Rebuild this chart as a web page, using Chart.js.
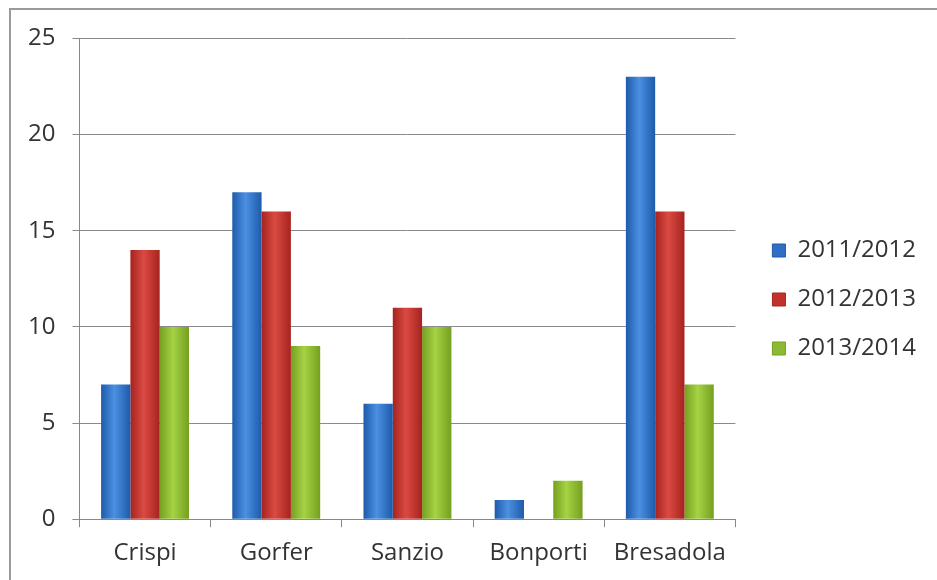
<!DOCTYPE html>
<html>
<head>
<meta charset="utf-8">
<script src="https://cdn.jsdelivr.net/npm/chart.js@4/dist/chart.umd.min.js"></script>
<style>
  html, body { margin: 0; padding: 0; background: #fff; }
  #frame {
    position: absolute; left: 9px; top: 8px; width: 928px; height: 572px;
    border-top: 2px solid #9a9a9a; border-left: 2px solid #9a9a9a;
    background: #fff;
  }
  #chart { display: block; }
</style>
</head>
<body>
<div id="frame"><canvas id="chart" width="926" height="570"></canvas></div>
<script>
const schools = ['Crispi', 'Gorfer', 'Sanzio', 'Bonporti', 'Bresadola'];
const years = ['2011/2012', '2012/2013', '2013/2014'];
const y2011 = [7, 17, 6, 1, 23];
const y2012 = [14, 16, 11, 0, 16];
const y2013 = [10, 9, 10, 2, 7];

// edge / centre / flat colours of the shaded bars
const shades = [
  ['#1e5aaa', '#4b90e2', '#2f6fc4'],
  ['#a6231f', '#da4a42', '#c2322d'],
  ['#74a01f', '#a6d245', '#8cba34']
];

const barShading = {
  id: 'barShading',
  beforeDatasetsDraw(chart) {
    const ctx = chart.ctx;
    chart.data.datasets.forEach((ds, i) => {
      const s = shades[i];
      chart.getDatasetMeta(i).data.forEach(bar => {
        const x0 = bar.x - bar.width / 2, x1 = bar.x + bar.width / 2;
        const g = ctx.createLinearGradient(x0, 0, x1, 0);
        g.addColorStop(0, s[0]);
        g.addColorStop(0.45, s[1]);
        g.addColorStop(1, s[0]);
        bar.options.backgroundColor = g;
      });
    });
  }
};

// push the legend a little further from the plot
const legendShift = {
  id: 'legendShift',
  afterLayout(chart) {
    chart.legend.left += 12;
    chart.legend.right += 12;
    chart.legend.top -= 2;
    chart.legend.bottom -= 2;
  }
};

const font = { family: "'Open Sans', 'DejaVu Sans', sans-serif", size: 24 };

new Chart(document.getElementById('chart'), {
  type: 'bar',
  data: {
    labels: schools,
    datasets: years.map((y, i) => ({
      label: y,
      data: [y2011, y2012, y2013][i],
      backgroundColor: c => shades[c.datasetIndex][2],
      borderColor: shades[i][0],
      borderWidth: 0
    }))
  },
  options: {
    responsive: false,
    animation: false,
    categoryPercentage: 0.67,
    barPercentage: 1.0,
    layout: { padding: { left: 0, top: 13, right: 23, bottom: 0 } },
    plugins: {
      legend: {
        position: 'right',
        labels: {
          font: font,
          color: '#333',
          boxWidth: 13,
          boxHeight: 13,
          padding: 25,
          generateLabels(chart) {
            return chart.data.datasets.map((ds, i) => ({
              text: ds.label,
              fillStyle: shades[i][2],
              strokeStyle: shades[i][0],
              lineWidth: 1,
              datasetIndex: i,
              fontColor: '#333'
            }));
          }
        }
      },
      tooltip: { enabled: false }
    },
    scales: {
      x: {
        grid: { display: true, drawOnChartArea: false, offset: true, tickLength: 8, color: '#888' },
        border: { color: '#888' },
        ticks: { font: font, color: '#333', padding: 12 }
      },
      y: {
        min: 0, max: 25,
        grid: { color: '#8a8a8a', tickLength: 7 },
        border: { color: '#888' },
        ticks: { stepSize: 5, font: font, color: '#333', padding: 17 },
        afterFit(scale) { scale.paddingTop -= 3; }
      }
    }
  },
  plugins: [barShading, legendShift]
});
</script>
</body>
</html>
